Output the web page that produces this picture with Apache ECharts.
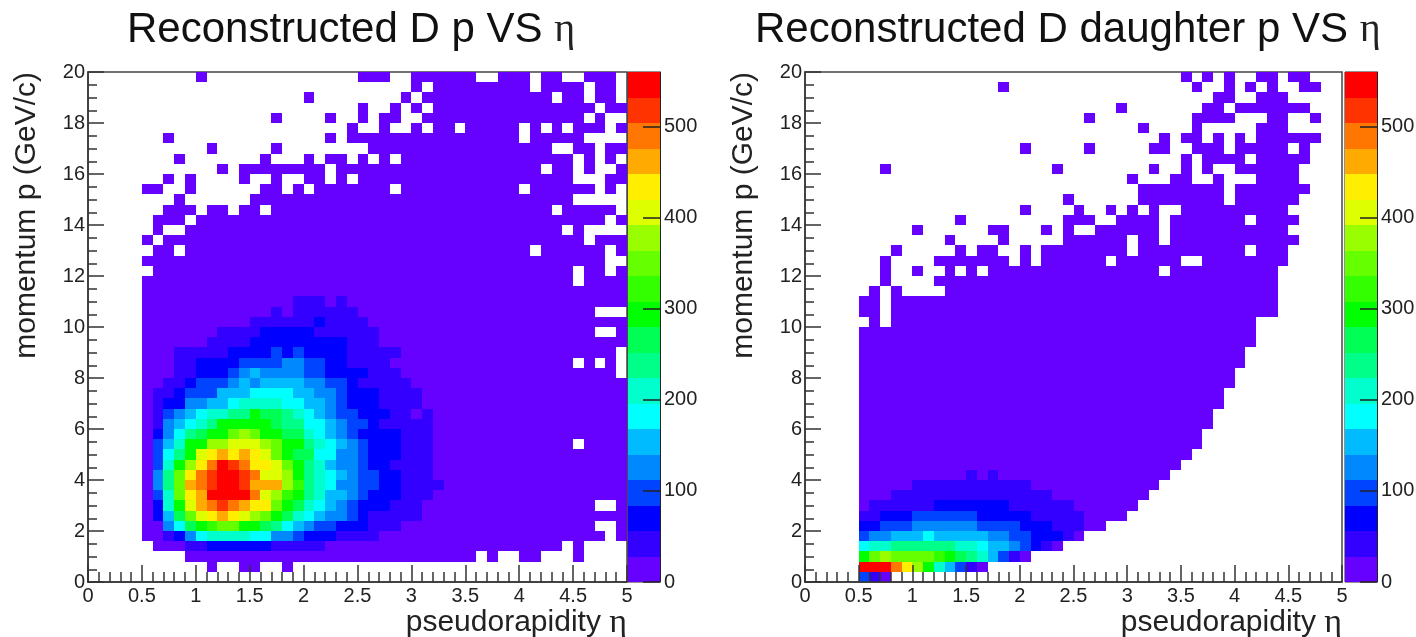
<!DOCTYPE html>
<html><head><meta charset="utf-8">
<style>html,body{margin:0;padding:0;background:#fff}#c{width:1416px;height:637px}</style>
<script src="https://cdn.jsdelivr.net/npm/echarts@6/dist/echarts.min.js"></script>
</head><body><div id="c"></div>
<script>
// Palette of the 20 colour contours, bottom of the colour bar to top
const palette = ['#6600ff','#3300ff','#0000ff','#0044ff','#0088ff','#00bbff','#00ffff','#00ffcc','#00ff88','#00ff55',
                 '#00ff00','#33ff00','#66ff00','#99ff00','#ddff00','#ffee00','#ffaa00','#ff7700','#ff3300','#ff0000'];
const levelChars = '0123456789abcdefghij';
const levelStep = 28, binEta = 0.1, binP = 0.4;
const etaTicksMax = 5, pTicksMax = 20, countMax = 560;
const titleLeft = 'Reconstructed D p VS ', titleRight = 'Reconstructed D daughter p VS ';
const xName = 'pseudorapidity ', yName = 'momentum p (GeV/c)', etaSymbol = 'η';

// Bin contents. One row per p bin (p = 20 at top), 50 eta bins, in groups of ten.
// '.' is an empty bin, other characters give the colour contour the bin falls in.
const leftRows = [
".......... 0......... .....000.. 000000..00 0.00..000.",
".......... .......... .......... 0.00000000 0.0000.00.",
".......... .......... 0........0 .000000000 000.00.00.",
".......... .......... .....0..0. 0.00000000 0000000.00",
".......... .......0.. ..0..0.00. .000000000 000000.0..",
".......... .......... ....0..0.. 0.00.00000 .0.0.000.0",
".......0.. .......... ..0.000000 0000000000 .00000....",
".......... .0.....0.. ......0000 0000000000 000..00.00",
"........0. ......0... 0.00.0.0.0 0000000000 00000.0.0.",
".......... ..0.000000 00.0000000 0000000000 00.00.0..0",
".......0.0 ....0..0.. 00.0.00000 0000000000 00000...00",
".....00..0 ......00.0 .0000000.0 0000000000 .000000.0.",
"........0. .....00000 0000000000 0000000000 00000.....",
".......000 .00.00.000 0000000000 0000000000 000.00000.",
"......000. 0000000000 0000000000 0000000000 00000000.0",
"......0..0 0000000000 0000000000 0000000000 0000.0....",
".....0.000 0000000000 0000000000 0000000000 000000.000",
"......00.0 0000000000 0000000000 0000000000 0.000000.0",
".....00000 0000000000 0000000000 0000000000 00000000..",
"......0000 0000000000 0000000000 0000000000 00000.00.0",
".....00000 0000000000 0000000000 0000000000 00000.0000",
".....00000 0000000000 0000000000 0000000000 0000000000",
".....00000 0000000001 1101000000 0000000000 0000000000",
".....00000 0000000101 1111100000 0000000000 0000000...",
".....00000 0000011111 1211110000 0000000000 0000000000",
".....00000 0011112222 2111111000 0000000000 0000000..0",
".....00000 0111122222 2222111000 0000000000 0000000000",
".....00011 1112222323 2222111110 0000000000 000000000.",
".....00011 2222333344 3322111100 0000000000 00000.0.0.",
".....00011 2223454444 3322221110 0000000000 000000000.",
".....00112 3334545555 4433211111 0000000000 0000000000",
".....01123 3355566665 5443222111 1000000000 0000000000",
".....01224 4556777766 5543222111 1000000000 0000000000",
".....01345 67788a9987 6543322211 0100000000 0000000000",
".....01456 78aaaaa988 6654332111 1100000000 0000000000",
".....02468 9aacdcaa99 7654322221 1100000000 0000000000",
".....0357a addeeedcaa 8765432221 1100000000 00000.0000",
".....0368a efgfgfeca9 9664432221 1100000000 0000000000",
".....037ad fhjihffeca 8754432211 1100000000 0000000000",
".....048cf hijjiheeda 8765433221 1100000000 0000000000",
".....048cg hijjigggdb 8764433221 1110000000 0000000000",
".....037cf gjjjjhedba 8755432221 1100000000 0000000000",
".....027ae ghihgffca9 7654322211 1000000000 0000000..0",
".....0259c efgfedca97 6544321111 1000000000 0000000000",
".....00469 abccaa9865 4332221110 0000000000 0000000..0",
".....00124 6777766443 2221111000 0000000000 00000000.0",
"......0001 1222222111 1100000000 0000000000 0000.0....",
".........0 0000000000 0000000000 000000.0.. 00...0....",
".......... .0..00..0. .......... .......... ..........",
".......... .......... .......... .......... .........."
];
const rightRows = [
".......... .......... .......... .....0.0.0 ..00.00...",
".......... ........0. .......... ......0..0 .0.0..00..",
".......... .......... .......... ........00 ..000.....",
".......... .......... .........0 .......00. 0000000...",
".......... .......... ......0... ......0000 ...00..0..",
".......... .......... .......... .0....0... ..000.....",
".......... .......... .......... ...0.00.0. 0.000000..",
".......... .......... 0.....0... ..00..000. 00000.0...",
".......... .......... .......... .....0.000 0.00000...",
".......0.. .......... ...0...... ..0..0.0.. 000000....",
".......... .......... .......... 0...00..0. ..0000....",
".......... .......... .......... .00000000. 0000000...",
".......... .......... ....0..... .00000000. 000000....",
".......... .......... 0....0..0. 0.0..00000 00000.....",
".......... ....0..... ....000..0 000.000000 0.0000....",
".......... 0......00. ..0.0..000 000.000000 00000.....",
".......... ...0....0. ....000000 .00.000000 000000....",
"........0. ....0.00.. 0.00000000 .000000000 0.000.....",
".......0.. ..0000000. 0.000000.0 00000..000 00000.....",
".......0.. 0..0.0.000 0000000000 000.000000 0000......",
".......0.. ..00000000 0000000000 0000000000 0000......",
"......0.0. ...0000000 0000000000 0000000000 0000......",
".....00.00 0000000000 0000000000 0000000000 0000......",
".....00.00 0000000000 0000000000 0000000000 0000......",
"......0.00 0000000000 0000000000 0000000000 00........",
".....00000 0000000000 0000000000 0000000000 00........",
".....00000 0000000000 0000000000 0000000000 00........",
".....00000 0000000000 0000000000 0000000000 0.........",
".....00000 0000000000 0000000000 0000000000 0.........",
".....00000 0000000000 0000000000 0000000000 ..........",
".....00000 0000000000 0000000000 0000000000 ..........",
".....00000 0000000000 0000000000 000000000. ..........",
".....00000 0000000000 0000000000 000000000. ..........",
".....00000 0000000000 0000000000 00000000.. ..........",
".....00000 0000000000 0000000000 00000000.. ..........",
".....00000 0000000000 0000000000 0000000... ..........",
".....00000 0000000000 0000000000 0000000... ..........",
".....00000 0000000000 0000000000 000000.... ..........",
".....00000 0000000000 0000000000 00000..... ..........",
".....00000 0000010100 0000000000 0000...... ..........",
".....00000 1111111111 1000000000 000....... ..........",
".....00011 1111111111 1110000000 00........ ..........",
".....01111 1122222221 1111100000 0......... ..........",
".....11222 3333332222 2111110000 .......... ..........",
".....22333 4444443333 22211100.. .......... ..........",
".....34455 5655555443 322210.... .......... ..........",
".....67788 8888776554 3210...... .......... ..........",
".....acdcc ccba987531 0......... .......... ..........",
".....jjjhf da75310... .......... .......... ..........",
".....310.. .......... .......... .......... .........."
];

function toCells(rows) {
  const cells = [];
  rows.forEach((row, k) => {
    row.replace(/ /g, '').split('').forEach((ch, i) => {
      if (ch !== '.') cells.push([i, rows.length - 1 - k, (levelChars.indexOf(ch) + 0.5) * levelStep]);
    });
  });
  return cells.map(c => [c[0] * binEta, c[1] * binP, c[2]]);
}
const snapRect = (api, x0, y0, x1, y1) => {
  const a = api.coord([x0, y1]), b = api.coord([x1, y0]);
  const x = Math.round(a[0]), y = Math.round(a[1]);
  return { type: 'rect', shape: { x, y, width: Math.round(b[0]) - x, height: Math.round(b[1]) - y }, style: { fill: api.visual('color') } };
};
const renderBin = (p, api) => snapRect(api, api.value(0), api.value(1), api.value(0) + binEta, api.value(1) + binP);
const renderBand = (p, api) => snapRect(api, 0, api.value(1), 1, api.value(1) + levelStep);

const FONT = '"Liberation Sans", Arial, sans-serif';
const INK = '#222';
const lineStyle = { color: '#333', width: 1.5 };
const etaRich = s => ({ e: { fontFamily: '"Liberation Serif", serif', fontSize: s, color: INK, fontStyle: 'normal' } });

const plots = [
  { left: 88, width: 539, barLeft: 628, cells: toCells(leftRows) },
  { left: 805, width: 537, barLeft: 1345, cells: toCells(rightRows) }
];
const TOP = 72, BOTTOM = 55, BAR_W = 32;
const grid = [], xAxis = [], yAxis = [], series = [];
const bands = palette.map((c, i) => [0, i * levelStep, (i + 0.5) * levelStep]);

plots.forEach((pl, n) => {
  const g = grid.length;
  grid.push({ left: pl.left, width: pl.width, top: TOP, bottom: BOTTOM, outerBoundsMode: 'none', show: true, borderColor: '#444', borderWidth: 1.5, backgroundColor: '#fff' });
  grid.push({ left: pl.barLeft, width: BAR_W, top: TOP, bottom: BOTTOM, outerBoundsMode: 'none', show: true, borderColor: '#222', borderWidth: 1, backgroundColor: 'transparent' });
  xAxis.push({
    gridIndex: g, type: 'value', min: 0, max: etaTicksMax, interval: 0.5, z: 5,
    axisLine: { show: true, onZero: false, lineStyle },
    axisTick: { show: true, inside: true, length: 17, lineStyle },
    minorTick: { show: true, splitNumber: 5, length: 10, lineStyle },
    splitLine: { show: false }, minorSplitLine: { show: false },
    axisLabel: { fontFamily: FONT, fontSize: 20, color: INK, margin: 4, formatter: v => String(v) },
    name: xName + '{e|' + etaSymbol + '}', nameLocation: 'end', nameGap: 0,
    nameTextStyle: { fontFamily: FONT, fontSize: 30, color: INK, align: 'right', verticalAlign: 'top', padding: [24, 0, 0, 0], rich: etaRich(34) }
  });
  yAxis.push({
    gridIndex: g, type: 'value', min: 0, max: pTicksMax, interval: 2, z: 5,
    axisLine: { show: true, onZero: false, lineStyle },
    axisTick: { show: true, inside: true, length: 16, lineStyle },
    minorTick: { show: true, splitNumber: 4, length: 9, lineStyle },
    splitLine: { show: false }, minorSplitLine: { show: false },
    axisLabel: { fontFamily: FONT, fontSize: 20, color: INK, margin: 3 },
    name: yName, nameLocation: 'end', nameGap: 0, nameRotate: 90,
    nameTextStyle: { fontFamily: FONT, fontSize: 30, color: INK, align: 'right', verticalAlign: 'bottom', padding: [0, 0, 46, 0] }
  });
  xAxis.push({ gridIndex: g + 1, type: 'value', min: 0, max: 1, show: false });
  yAxis.push({
    gridIndex: g + 1, type: 'value', min: 0, max: countMax, interval: 100, position: 'right', z: 5,
    axisLine: { show: true, onZero: false, lineStyle: { color: '#222', width: 1 } },
    axisTick: { show: true, inside: true, length: 17, lineStyle: { color: '#222', width: 1.5 } },
    minorTick: { show: false }, splitLine: { show: false },
    axisLabel: { fontFamily: FONT, fontSize: 20, color: INK, margin: 4, showMaxLabel: false }
  });
  series.push({ type: 'custom', coordinateSystem: 'cartesian2d', xAxisIndex: g, yAxisIndex: g, renderItem: renderBin,
    encode: { x: 0, y: 1 }, data: pl.cells, clip: true, animation: false });
  series.push({ type: 'custom', coordinateSystem: 'cartesian2d', xAxisIndex: g + 1, yAxisIndex: g + 1, renderItem: renderBand,
    encode: { x: 0, y: 1 }, data: bands, animation: false });
});

const chart = echarts.init(document.getElementById('c'));
chart.setOption({
  animation: false,
  backgroundColor: '#fff',
  title: [
    { text: titleLeft + '{e|' + etaSymbol + '}', left: 122, top: 4, textStyle: { fontFamily: FONT, fontSize: 42, fontWeight: 'normal', color: '#111', rich: etaRich(40) } },
    { text: titleRight + '{e|' + etaSymbol + '}', left: 750, top: 4, textStyle: { fontFamily: FONT, fontSize: 42, fontWeight: 'normal', color: '#111', rich: etaRich(40) } }
  ],
  tooltip: { show: false },
  grid, xAxis, yAxis, series,
  visualMap: {
    type: 'piecewise', show: false, dimension: 2, seriesIndex: [0, 1, 2, 3],
    pieces: palette.map((c, i) => ({ gte: i * levelStep, lt: (i + 1) * levelStep, color: c }))
  }
});
</script></body></html>
